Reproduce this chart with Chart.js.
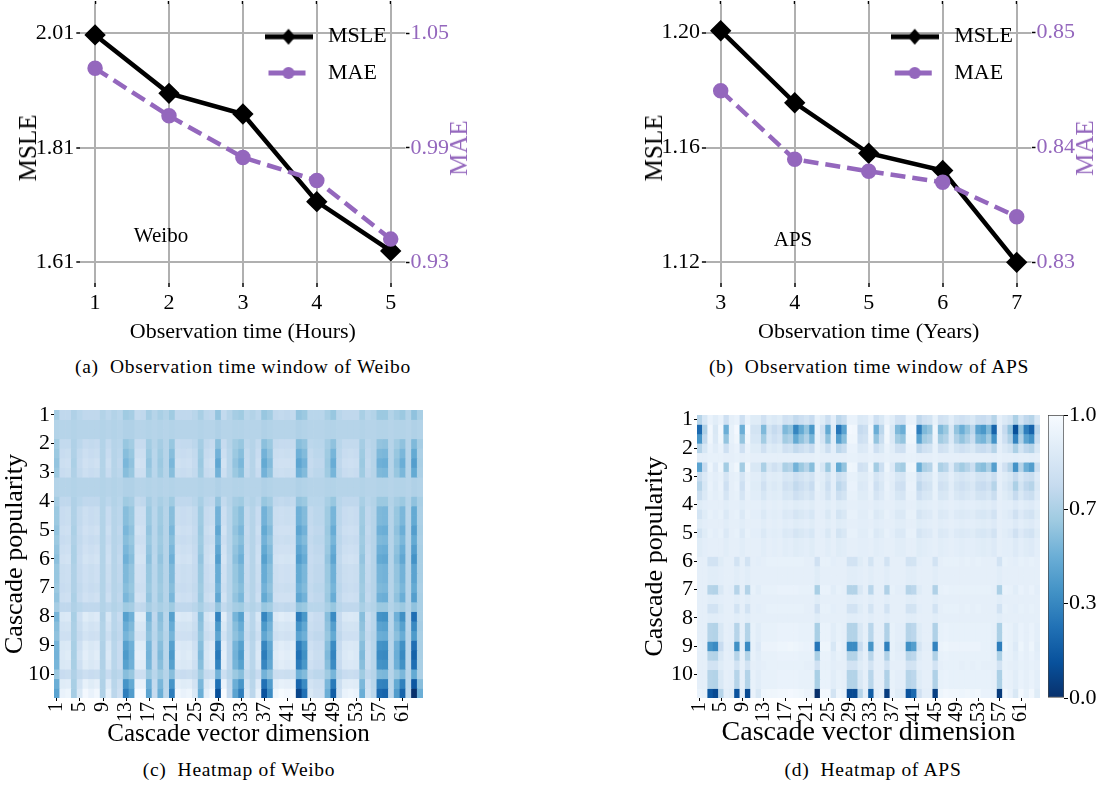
<!DOCTYPE html>
<html>
<head>
<meta charset="utf-8">
<title>Observation time windows and heatmaps</title>
<script src="https://cdn.jsdelivr.net/npm/chart.js@4"></script>
<style>
  html, body { margin: 0; background: #fff; }
  #page { position: relative; width: 1106px; height: 787px; overflow: hidden; font-family: "Liberation Serif", serif; color: #000; }
  canvas { position: absolute; }
  .note { position: absolute; transform: translate(-50%, -50%); white-space: pre; }
  .caption { font-size: 19.5px; letter-spacing: 0.7px; }
  .ytitle { font-size: 25px; transform: translate(-50%, -50%) rotate(-90deg); }
</style>
</head>
<body>
<div id="page">
  <canvas id="lineWeibo" width="490" height="350" style="left:0;top:0"></canvas>
  <canvas id="lineAps" width="476" height="350" style="left:630px;top:0"></canvas>
  <canvas id="heatWeibo" width="440" height="350" style="left:0;top:400px"></canvas>
  <canvas id="heatAps" width="420" height="350" style="left:640px;top:400px"></canvas>
  <canvas id="colorbar" width="66" height="320" style="left:1040px;top:400px"></canvas>
  <div class="note" style="left:161px;top:235px;font-size:21px">Weibo</div>
  <div class="note" style="left:793px;top:239px;font-size:21px">APS</div>
  <div class="note ytitle" style="left:28px;top:148px">MSLE</div>
  <div class="note ytitle" style="left:459px;top:148px;color:#9467bd">MAE</div>
  <div class="note ytitle" style="left:654px;top:148px">MSLE</div>
  <div class="note ytitle" style="left:1085px;top:148px;color:#9467bd">MAE</div>
  <div class="note caption" style="left:243px;top:367px">(a)  Observation time window of Weibo</div>
  <div class="note caption" style="left:869px;top:367px">(b)  Observation time window of APS</div>
  <div class="note caption" style="left:239px;top:770px">(c)  Heatmap of Weibo</div>
  <div class="note caption" style="left:873px;top:770px">(d)  Heatmap of APS</div>
</div>
<script>
// line panels
const weiboHours = [1, 2, 3, 4, 5];
const weiboMsle = [2.007, 1.905, 1.869, 1.716, 1.63];
const weiboMae = [1.0317, 1.0068, 0.985, 0.9729, 0.9422];
const weiboMsleTicks = [1.61, 1.81, 2.01];
const weiboMaeTicks = [0.93, 0.99, 1.05];

const apsYears = [3, 4, 5, 6, 7];
const apsMsle = [1.2007, 1.1756, 1.158, 1.152, 1.12];
const apsMae = [0.84495, 0.83897, 0.83793, 0.83697, 0.83397];
const apsMsleTicks = [1.12, 1.16, 1.2];
const apsMaeTicks = [0.83, 0.84, 0.85];

// heatmap axes
const popularity = ["1", "2", "3", "4", "5", "6", "7", "8", "9", "10"];
const dimensions = Array.from({ length: 64 }, (_, i) => String(i + 1));
const colorbarTicks = [0, 1 / 3, 2 / 3, 1];
const colorbarLabels = ["0.0", "0.3", "0.7", "1.0"];

// Weibo heatmap rows, percent of the colour scale
const wFlat = [69,70,70,69,70,70,70,70,69,70,69,70,68,68,70,70,69,70,69,70,69,70,70,70,70,69,70,70,68,70,70,69,69,70,70,70,68,69,70,70,70,70,68,69,70,70,70,69,69,70,70,70,70,69,70,70,69,69,70,69,69,70,68,69];
const w15 = [65,73,73,68,71,73,73,73,69,72,69,71,63,65,74,73,65,70,66,69,63,73,73,73,71,66,72,73,60,74,70,65,63,71,69,72,61,64,73,74,73,74,60,62,71,71,71,66,61,71,73,73,73,66,71,69,62,62,69,65,62,69,59,66];
const w20 = [64,74,74,68,72,75,74,75,69,74,70,71,61,64,75,75,64,70,65,70,61,75,74,74,72,65,73,75,58,75,70,64,61,72,70,74,58,62,74,75,75,75,57,60,72,71,71,65,59,71,74,74,74,65,72,70,60,59,70,64,59,70,55,65];
const w30 = [62,76,77,68,74,78,76,77,69,76,70,72,57,61,78,78,62,71,63,70,57,77,76,77,74,63,75,77,52,78,71,62,57,74,70,76,52,59,77,78,77,78,51,56,74,72,72,63,53,72,76,77,76,63,73,70,55,54,70,61,54,70,48,67];
const w35 = [61,77,78,68,75,79,77,79,69,77,70,73,55,60,80,79,61,71,62,70,55,79,77,78,75,62,76,79,49,80,71,61,55,75,70,77,49,57,78,80,79,80,48,54,75,73,73,62,51,73,77,78,77,62,74,70,53,52,70,60,52,70,45,66];
const w38 = [60,78,79,67,75,80,78,80,69,78,70,73,54,59,81,80,60,71,62,70,54,80,78,79,75,62,77,80,47,81,71,60,54,75,70,78,48,56,79,80,80,80,46,52,75,73,73,62,49,73,78,79,78,62,74,70,51,50,70,59,50,70,43,66];
const w40 = [59,79,79,67,75,81,79,80,69,78,70,73,53,58,81,81,59,71,61,70,53,80,79,79,75,61,77,80,46,81,71,59,53,75,70,78,47,55,79,81,80,81,45,51,75,73,73,61,48,73,79,79,79,61,74,70,50,49,70,58,49,70,41,66];
const w45 = [58,80,81,67,76,82,80,82,69,79,70,74,51,57,83,82,58,72,60,70,51,82,80,81,76,60,78,82,43,83,72,58,51,76,70,79,44,54,81,83,82,83,42,49,76,74,74,60,46,74,80,81,80,60,75,70,48,47,70,57,47,70,38,66];
const w50 = [57,81,82,67,77,84,81,83,69,81,71,74,49,55,85,84,57,72,59,71,49,83,81,82,77,59,80,83,40,85,72,57,49,77,71,81,41,52,82,84,83,84,38,47,77,75,75,59,43,75,81,82,81,59,76,71,45,44,71,55,44,71,34,65];
const w65 = [53,85,86,66,79,88,85,87,68,84,71,76,44,51,89,88,53,73,57,71,44,87,85,86,79,57,83,87,32,89,73,53,44,79,71,84,33,47,86,89,87,89,29,40,79,76,76,57,35,76,85,86,85,57,77,71,38,37,71,51,37,71,24,66];
const w72 = [52,86,88,66,81,90,86,89,68,86,71,76,41,50,91,90,52,73,55,71,41,89,86,88,81,55,84,89,28,91,73,52,41,81,71,86,29,45,88,91,89,91,25,37,81,77,77,55,32,77,86,88,86,55,78,71,35,34,71,50,34,71,19,66];
const w78 = [50,88,89,66,81,92,88,91,68,87,71,77,39,48,93,92,50,74,54,71,39,91,88,89,81,54,85,91,25,93,74,50,39,81,71,87,25,42,89,92,91,92,21,35,81,78,78,54,28,78,88,89,88,54,79,71,32,31,71,48,31,71,15,57];
const wLast = [45,93,95,65,85,98,93,97,68,92,72,79,30,42,100,98,45,75,50,72,30,97,93,95,85,50,90,97,12,100,75,45,30,85,72,92,13,35,95,99,97,99,8,25,85,80,80,50,17,80,93,95,93,50,82,72,22,20,72,42,20,72,0,50];
const weiboRows = [w15, wFlat, wFlat, w20, w30, w38, w30, wFlat, wFlat, w15, w30, w30, w38, w30, w38, w45, w35, w35, w30, w38, w15, w65, w50, w40, w65, w72, w65, w30, w78, wLast];

// APS heatmap rows
const aFlat = [91,91,92,92,92,91,91,92,91,92,91,91,91,91,91,91,91,91,91,91,91,91,92,91,91,91,91,91,92,92,91,91,92,91,91,92,91,91,91,92,92,91,91,91,92,91,91,91,91,91,91,91,91,91,91,90,92,91,91,90,91,91,90,91];
const a05 = [88,90,91,91,91,89,91,91,89,91,91,91,89,91,90,91,89,90,88,89,90,88,91,91,89,91,88,89,91,91,90,90,91,89,90,91,91,89,89,91,91,88,89,90,91,89,90,91,90,89,90,90,89,88,89,87,91,90,90,87,90,88,87,90];
const a15 = [82,88,92,90,92,86,91,92,86,92,90,90,86,90,89,90,86,87,83,85,87,84,91,90,85,91,82,85,92,92,89,89,92,86,88,92,90,86,86,92,92,83,86,87,91,86,87,90,87,86,87,88,85,84,86,81,91,89,87,80,87,83,81,88];
const a20 = [77,86,92,90,92,83,91,92,83,92,89,89,84,89,88,89,84,85,79,82,85,81,91,89,82,90,78,82,92,92,88,88,92,83,87,92,90,84,83,92,92,79,84,85,92,84,85,90,85,83,85,87,82,81,84,77,91,88,85,75,85,79,77,87];
const a30 = [70,84,93,89,93,79,91,93,79,93,88,88,80,88,86,88,80,82,74,78,82,76,92,88,78,90,72,77,93,93,86,87,93,79,85,93,89,80,79,93,93,73,80,82,92,80,82,89,82,79,82,85,77,76,80,70,91,86,82,67,82,73,70,85];
const a67 = [45,76,95,87,95,64,92,96,64,96,85,85,67,85,80,84,67,70,52,62,70,57,92,84,62,89,48,60,96,95,80,82,95,64,78,95,87,67,64,95,96,50,67,70,94,67,71,87,70,64,70,78,60,57,67,43,90,80,70,38,70,50,43,78];
const a75 = [39,74,96,86,96,60,92,96,60,96,84,84,64,84,79,83,64,68,48,59,68,53,92,83,59,89,43,57,96,96,79,81,96,60,77,96,86,64,60,96,96,45,64,68,94,64,69,86,68,60,68,77,56,53,64,38,90,79,68,32,68,45,38,77];
const aTop = [22,68,97,85,97,50,92,98,50,98,82,82,55,82,75,80,55,60,33,48,60,40,93,80,48,88,27,45,98,97,75,78,97,50,72,97,85,55,50,97,98,30,55,60,95,55,62,85,60,50,60,72,45,40,55,20,90,75,60,12,60,30,20,72];
const b03 = [91,91,89,89,90,91,91,89,91,89,91,91,91,91,91,91,91,91,91,91,91,91,88,91,91,91,91,91,89,89,90,91,89,91,91,89,91,91,91,89,89,91,91,91,89,91,91,91,91,91,91,91,91,91,91,91,89,91,91,91,91,91,91,91];
const b12 = [91,91,81,81,88,91,91,81,91,81,91,90,91,92,92,92,92,92,92,92,91,91,80,92,92,90,91,91,81,81,88,91,82,91,91,81,91,91,91,81,82,90,91,91,81,91,92,92,92,91,92,91,92,91,91,91,81,92,91,90,92,91,92,91];
const b27 = [91,91,70,69,85,91,90,70,91,69,92,89,92,92,92,93,93,93,93,92,92,92,66,93,93,89,92,91,69,69,85,91,71,91,91,68,92,90,90,70,72,88,91,91,68,92,93,92,92,92,92,92,92,92,92,91,67,93,92,89,93,91,93,90];
const b70 = [92,91,39,35,76,90,89,37,90,35,92,87,94,94,94,95,95,96,95,94,93,93,27,95,95,84,94,91,35,35,76,90,39,90,91,31,92,89,88,37,43,83,90,90,32,94,95,94,94,94,94,94,94,92,92,91,30,95,92,87,95,91,95,89];
const bLast = [93,92,15,10,70,90,88,13,90,10,93,85,95,96,96,97,97,98,97,96,94,94,0,97,97,82,95,92,10,10,70,90,17,90,92,5,93,88,87,13,22,80,90,90,6,95,97,96,96,95,96,95,96,93,93,92,4,97,93,85,97,92,97,88];
const apsRows = [a30, aTop, a75, a30, aFlat, a67, a20, a30, a20, a05, a15, a05, a15, a05, a05, b12, b03, b03, b27, b03, b12, b03, b27, b27, b70, b27, b12, b27, b27, bLast];

const PURPLE = "#9467bd";
const GRID = "#b0b0b0";
const BLUES_R = [[8,48,107],[8,81,156],[33,113,181],[66,146,198],[107,174,214],[158,202,225],[198,219,239],[222,235,247],[247,251,255]];

Chart.defaults.font.family = '"Liberation Serif", serif';
Chart.defaults.color = "#000";
Chart.defaults.animation = false;
Chart.defaults.responsive = false;
Chart.defaults.layout.autoPadding = false;

function bluesR(v) {
  const t = Math.min(Math.max(v, 0), 1) * (BLUES_R.length - 1);
  const i = Math.min(Math.floor(t), BLUES_R.length - 2);
  const f = t - i;
  const c = BLUES_R[i].map((a, k) => Math.round(a + (BLUES_R[i + 1][k] - a) * f));
  return `rgb(${c[0]},${c[1]},${c[2]})`;
}

// small canvas with line + marker, used as the legend's point style
function legendIcon(color, dashed, marker) {
  const c = document.createElement("canvas");
  c.width = 48;
  c.height = 20;
  const ctx = c.getContext("2d");
  ctx.strokeStyle = color;
  ctx.fillStyle = color;
  ctx.lineWidth = 5;
  ctx.beginPath();
  if (dashed) {
    ctx.setLineDash([15, 7]);
    ctx.moveTo(4, 10);
    ctx.lineTo(44, 10);
  } else {
    ctx.moveTo(0, 10);
    ctx.lineTo(48, 10);
  }
  ctx.stroke();
  ctx.beginPath();
  if (marker === "diamond") {
    ctx.moveTo(24, 2);
    ctx.lineTo(31, 10);
    ctx.lineTo(24, 18);
    ctx.lineTo(17, 10);
    ctx.closePath();
  } else {
    ctx.arc(24, 10, 6, 0, Math.PI * 2);
  }
  ctx.fill();
  return c;
}

// pin an axis to a fixed size and drop the room it asks for around its labels
function fixedSize(prop, size) {
  return (scale) => {
    scale[prop] = size;
    scale.paddingTop = 0;
    scale.paddingBottom = 0;
    scale.paddingLeft = 0;
    scale.paddingRight = 0;
  };
}

function lineChart(id, o) {
  const xMin = o.x[0] - 0.2;
  const xMax = o.x[o.x.length - 1] + 0.2;
  const icons = [legendIcon("#000", false, "diamond"), legendIcon(PURPLE, true, "circle")];
  new Chart(document.getElementById(id), {
    type: "line",
    data: {
      datasets: [
        {
          label: "MSLE",
          data: o.x.map((x, i) => ({ x, y: o.msle[i] })),
          yAxisID: "y",
          order: 2,
          borderColor: "#000",
          backgroundColor: "#000",
          borderWidth: 4.5,
          pointStyle: "rectRot",
          pointRadius: 7.5,
          tension: 0,
        },
        {
          label: "MAE",
          data: o.x.map((x, i) => ({ x, y: o.mae[i] })),
          yAxisID: "y1",
          order: 1,
          borderColor: PURPLE,
          backgroundColor: PURPLE,
          borderWidth: 4.5,
          borderDash: [15, 7],
          pointStyle: "circle",
          pointRadius: 5.5,
          tension: 0,
        },
      ],
    },
    options: {
      clip: false,
      layout: { padding: 0 },
      plugins: {
        tooltip: { enabled: false },
        legend: {
          position: "chartArea",
          align: "start",
          labels: {
            usePointStyle: true,
            pointStyleWidth: 57,
            padding: 14.3,
            color: "#000",
            font: { size: 22 },
            generateLabels: () => ["MSLE", "MAE"].map((text, i) => ({ text, pointStyle: icons[i], fillStyle: "#000", strokeStyle: "#000", lineWidth: 0, hidden: false, datasetIndex: i })),
          },
        },
      },
      scales: {
        x: {
          type: "linear",
          position: "bottom",
          min: xMin,
          max: xMax,
          afterBuildTicks: (s) => { s.ticks = o.x.map((value) => ({ value })); },
          afterFit: fixedSize("height", 67),
          ticks: { callback: (v) => String(v), font: { size: 22 }, padding: 3, autoSkip: false, maxRotation: 0 },
          grid: { color: GRID, lineWidth: 2, tickColor: "#000", tickWidth: 1.5, tickLength: 4 },
          border: { display: false },
          title: { display: true, text: o.xTitle, font: { size: 22 }, padding: { top: 0, bottom: 5 } },
        },
        xTop: {
          type: "linear",
          position: "top",
          min: xMin,
          max: xMax,
          afterBuildTicks: (s) => { s.ticks = o.x.map((value) => ({ value })); },
          afterFit: fixedSize("height", 4),
          ticks: { display: false },
          grid: { drawOnChartArea: false, tickColor: "#000", tickWidth: 1.5, tickLength: 3 },
          border: { display: false },
        },
        y: {
          position: "left",
          min: o.yRange[0],
          max: o.yRange[1],
          afterBuildTicks: (s) => { s.ticks = o.msleTicks.map((value) => ({ value })); },
          afterFit: fixedSize("width", o.leftWidth),
          ticks: { callback: (v) => v.toFixed(2), font: { size: 22 }, padding: 2, autoSkip: false },
          grid: { color: GRID, lineWidth: 2, tickColor: "#000", tickWidth: 1.5, tickLength: 4 },
          border: { display: false },
        },
        y1: {
          position: "right",
          min: o.y1Range[0],
          max: o.y1Range[1],
          afterBuildTicks: (s) => { s.ticks = o.maeTicks.map((value) => ({ value })); },
          afterFit: fixedSize("width", o.rightWidth),
          ticks: { callback: (v) => v.toFixed(2), color: PURPLE, font: { size: 22 }, padding: 1, autoSkip: false },
          grid: { drawOnChartArea: false, tickColor: "#000", tickWidth: 1.5, tickLength: 4 },
          border: { display: false },
        },
      },
    },
    plugins: [{
      id: "legendSpot",
      afterLayout(chart) {
        const l = chart.legend;
        const w = l.width;
        const h = l.height;
        l.left = o.legendLeft;
        l.right = l.left + w;
        l.top = 11.4;
        l.bottom = l.top + h;
      },
    }],
  });
}

function heatmap(id, rows, o) {
  new Chart(document.getElementById(id), {
    type: "bar",
    data: {
      labels: dimensions,
      datasets: rows.map((row) => ({
        data: row.map(() => 1),
        backgroundColor: row.map((v) => bluesR(v / 100)),
        borderWidth: 0,
        barPercentage: 1,
        categoryPercentage: 1,
      })),
    },
    options: {
      layout: { padding: { top: o.top, right: o.right } },
      plugins: { legend: { display: false }, tooltip: { enabled: false } },
      scales: {
        x: {
          stacked: true,
          afterBuildTicks: (s) => { s.ticks = s.ticks.filter((t) => t.value % 4 === 0); },
          afterFit: fixedSize("height", 52),
          ticks: { autoSkip: false, minRotation: 90, maxRotation: 90, font: { size: 20 }, padding: 1 },
          grid: { drawOnChartArea: false, offset: false, tickColor: "#000", tickLength: 3 },
          border: { display: false },
          title: { display: true, text: "Cascade vector dimension", font: { size: o.xTitleSize }, padding: { top: 0, bottom: 1 } },
        },
        y: {
          stacked: true,
          reverse: true,
          min: 0,
          max: rows.length,
          afterBuildTicks: (s) => { s.ticks = popularity.map((_, i) => ({ value: i * 3 + 0.5 })); },
          afterFit: fixedSize("width", o.left),
          ticks: { callback: (v) => popularity[(v - 0.5) / 3], font: { size: 22 }, padding: 1, autoSkip: false },
          grid: { drawOnChartArea: false, tickColor: "#000", tickLength: 3 },
          border: { display: false },
          title: { display: true, text: "Cascade popularity", font: { size: 26 }, padding: { top: 0, bottom: 0 } },
        },
      },
    },
  });
}

lineChart("lineWeibo", {
  x: weiboHours, msle: weiboMsle, mae: weiboMae,
  msleTicks: weiboMsleTicks, maeTicks: weiboMaeTicks,
  yRange: [1.574, 2.061], y1Range: [0.9192, 1.0654],
  xTitle: "Observation time (Hours)",
  leftWidth: 80.3, rightWidth: 84.5, legendLeft: 245.7,
});

lineChart("lineAps", {
  x: apsYears, msle: apsMsle, mae: apsMae,
  msleTicks: apsMsleTicks, maeTicks: apsMaeTicks,
  yRange: [1.1128, 1.21], y1Range: [0.8282, 0.8525],
  xTitle: "Observation time (Years)",
  leftWidth: 75.9, rightWidth: 74.5, legendLeft: 241.9,
});

heatmap("heatWeibo", weiboRows, { top: 10, right: 17, left: 54, xTitleSize: 25 });
heatmap("heatAps", apsRows, { top: 15, right: 20, left: 57, xTitleSize: 28 });

new Chart(document.getElementById("colorbar"), {
  type: "bar",
  data: {
    labels: [""],
    datasets: [{
      data: [[0, 1]],
      barPercentage: 1,
      categoryPercentage: 1,
      borderWidth: 1,
      borderSkipped: false,
      borderColor: "#444",
      backgroundColor: (ctx) => {
        const area = ctx.chart.chartArea;
        if (!area) return "#fff";
        const g = ctx.chart.ctx.createLinearGradient(0, area.bottom, 0, area.top);
        BLUES_R.forEach((_, i) => g.addColorStop(i / (BLUES_R.length - 1), bluesR(i / (BLUES_R.length - 1))));
        return g;
      },
    }],
  },
  options: {
    layout: { padding: { top: 15, left: 8, bottom: 22 } },
    plugins: { legend: { display: false }, tooltip: { enabled: false } },
    scales: {
      x: { display: false },
      y: {
        position: "right",
        min: 0,
        max: 1,
        afterBuildTicks: (s) => { s.ticks = colorbarTicks.map((value) => ({ value })); },
        afterFit: fixedSize("width", 42),
        ticks: { callback: (v) => colorbarLabels[colorbarTicks.indexOf(v)], font: { size: 22 }, padding: 1, autoSkip: false },
        grid: { drawOnChartArea: false, tickColor: "#000", tickLength: 4 },
        border: { display: false },
      },
    },
  },
});
</script>
</body>
</html>
